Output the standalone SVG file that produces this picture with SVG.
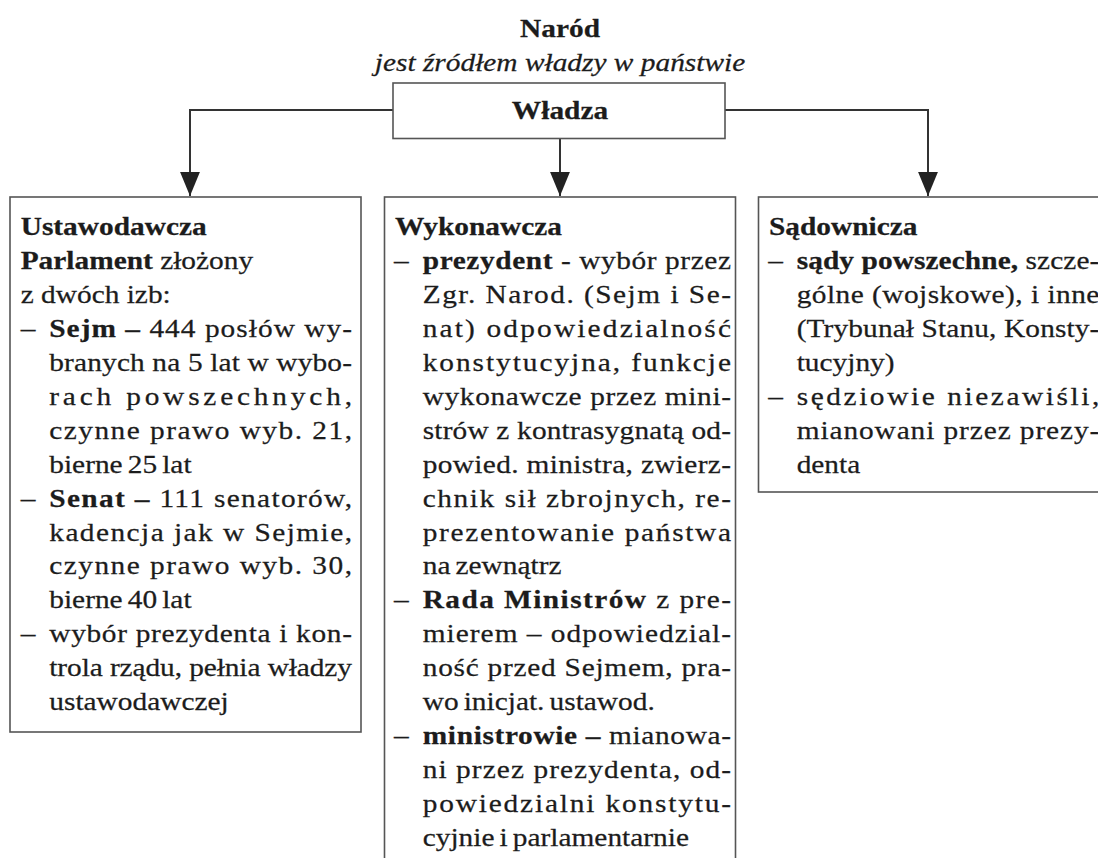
<svg xmlns="http://www.w3.org/2000/svg" width="1098" height="858" viewBox="0 0 1098 858">
<style>
text{font-family:"Liberation Serif","Times New Roman",serif;font-size:26px;fill:#1c1c1c;stroke:#1c1c1c;stroke-width:0.25}
.b{font-weight:bold}
.i{font-style:italic}
.t{word-spacing:-2px}
.box{fill:#fff;stroke:#555;stroke-width:1.6}
.con{fill:none;stroke:#333;stroke-width:2}
</style>
<defs>
<marker id="arr" markerUnits="userSpaceOnUse" markerWidth="24" markerHeight="20" viewBox="0 0 23 19" refX="23" refY="9.5" orient="auto">
<path d="M0,0 L23,9.5 L0,19 z" fill="#222"/>
</marker>
</defs>
<rect width="1098" height="858" fill="#fff"/>

<g id="narod" transform="scale(1.13 1)">
<text x="495.6" y="37.5" text-anchor="middle" class="b">Naród</text>
<text x="495.6" y="71.5" text-anchor="middle" class="i">jest źródłem władzy w państwie</text>
</g>

<g id="connectors">
<path class="con" d="M393 110 H190 V196" marker-end="url(#arr)"/>
<path class="con" d="M725 110 H928 V196" marker-end="url(#arr)"/>
<path class="con" d="M560 138.5 V196" marker-end="url(#arr)"/>
</g>

<g id="wladza">
<rect class="box" x="393" y="83" width="332" height="55.5"/>
<text x="495.6" y="119.3" text-anchor="middle" class="b" transform="scale(1.13 1)">Władza</text>
</g>

<g id="ustawodawcza">
<rect class="box" x="10" y="197" width="351" height="535"/>
<g transform="scale(1.13 1)">
<text x="18.3" y="235.5" class="b">Ustawodawcza</text>
<text x="18.3" y="269.4"><tspan class="b">Parlament</tspan> złożony</text>
<text x="18.3" y="303.3">z dwóch izb:</text>
<text x="18.3" y="337.2">–</text>
<text x="43.6" y="337.2" textLength="267.9" lengthAdjust="spacing"><tspan class="b">Sejm –</tspan> 444 posłów wy-</text>
<text x="43.6" y="371.1" textLength="267.9" lengthAdjust="spacing">branych na 5 lat w wybo-</text>
<text x="43.6" y="405" textLength="267.9" lengthAdjust="spacing">rach powszechnych,</text>
<text x="43.6" y="438.9" textLength="267.9" lengthAdjust="spacing">czynne prawo wyb. 21,</text>
<text x="43.6" y="472.8" class="t">bierne 25 lat</text>
<text x="18.3" y="506.7">–</text>
<text x="43.6" y="506.7" textLength="267.9" lengthAdjust="spacing"><tspan class="b">Senat –</tspan> 111 senatorów,</text>
<text x="43.6" y="540.6" textLength="267.9" lengthAdjust="spacing">kadencja jak w Sejmie,</text>
<text x="43.6" y="574.5" textLength="267.9" lengthAdjust="spacing">czynne prawo wyb. 30,</text>
<text x="43.6" y="608.4" class="t">bierne 40 lat</text>
<text x="18.3" y="642.3">–</text>
<text x="43.6" y="642.3" textLength="267.9" lengthAdjust="spacing">wybór prezydenta i kon-</text>
<text x="43.6" y="676.2" textLength="267.9" lengthAdjust="spacing">trola rządu, pełnia władzy</text>
<text x="43.6" y="710.1">ustawodawczej</text>
</g>
</g>

<g id="wykonawcza">
<rect class="box" x="384.5" y="197" width="351" height="700"/>
<g transform="scale(1.13 1)">
<text x="349.6" y="235.5" class="b">Wykonawcza</text>
<text x="348.7" y="269.4">–</text>
<text x="374.1" y="269.4" textLength="272.8" lengthAdjust="spacing"><tspan class="b">prezydent</tspan> - wybór przez</text>
<text x="374.1" y="303.3" textLength="272.8" lengthAdjust="spacing">Zgr. Narod. (Sejm i Se-</text>
<text x="374.1" y="337.2" textLength="272.8" lengthAdjust="spacing">nat) odpowiedzialność</text>
<text x="374.1" y="371.1" textLength="272.8" lengthAdjust="spacing">konstytucyjna, funkcje</text>
<text x="374.1" y="405" textLength="272.8" lengthAdjust="spacing">wykonawcze przez mini-</text>
<text x="374.1" y="438.9" textLength="272.8" lengthAdjust="spacing">strów z kontrasygnatą od-</text>
<text x="374.1" y="472.8" textLength="272.8" lengthAdjust="spacing">powied. ministra, zwierz-</text>
<text x="374.1" y="506.7" textLength="272.8" lengthAdjust="spacing">chnik sił zbrojnych, re-</text>
<text x="374.1" y="540.6" textLength="272.8" lengthAdjust="spacing">prezentowanie państwa</text>
<text x="374.1" y="574.5" class="t">na zewnątrz</text>
<text x="348.7" y="608.4">–</text>
<text x="374.1" y="608.4" textLength="272.8" lengthAdjust="spacing"><tspan class="b">Rada Ministrów</tspan> z pre-</text>
<text x="374.1" y="642.3" textLength="272.8" lengthAdjust="spacing">mierem – odpowiedzial-</text>
<text x="374.1" y="676.2" textLength="272.8" lengthAdjust="spacing">ność przed Sejmem, pra-</text>
<text x="374.1" y="710.1" class="t">wo inicjat. ustawod.</text>
<text x="348.7" y="744">–</text>
<text x="374.1" y="744" textLength="272.8" lengthAdjust="spacing"><tspan class="b">ministrowie –</tspan> mianowa-</text>
<text x="374.1" y="777.9" textLength="272.8" lengthAdjust="spacing">ni przez prezydenta, od-</text>
<text x="374.1" y="811.8" textLength="272.8" lengthAdjust="spacing">powiedzialni konstytu-</text>
<text x="374.1" y="845.7" class="t">cyjnie i parlamentarnie</text>
</g>
</g>

<g id="sadownicza">
<rect class="box" x="758.5" y="197" width="351" height="295"/>
<g transform="scale(1.13 1)">
<text x="680.5" y="235.5" class="b">Sądownicza</text>
<text x="679.9" y="269.4">–</text>
<text x="705" y="269.4" textLength="267.9" lengthAdjust="spacing"><tspan class="b">sądy powszechne,</tspan> szcze-</text>
<text x="705" y="303.3" textLength="267.9" lengthAdjust="spacing">gólne (wojskowe), i inne</text>
<text x="705" y="337.2" textLength="267.9" lengthAdjust="spacing">(Trybunał Stanu, Konsty-</text>
<text x="705" y="371.1">tucyjny)</text>
<text x="679.9" y="405">–</text>
<text x="705" y="405" textLength="267.9" lengthAdjust="spacing">sędziowie niezawiśli,</text>
<text x="705" y="438.9" textLength="267.9" lengthAdjust="spacing">mianowani przez prezy-</text>
<text x="705" y="472.8">denta</text>
</g>
</g>
</svg>
